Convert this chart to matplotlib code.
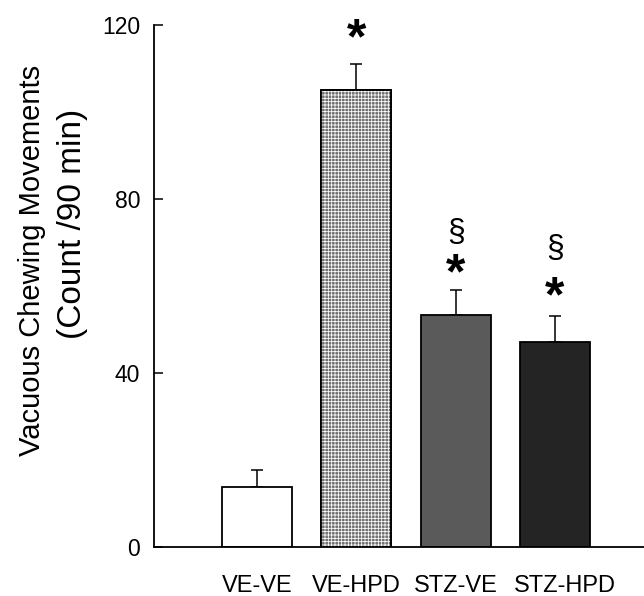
import matplotlib
matplotlib.use('Agg')
import matplotlib.pyplot as plt
import matplotlib.transforms as mtransforms
import numpy as np

groups = ["VE-VE", "VE-HPD", "STZ-VE", "STZ-HPD"]
means = [13.8, 105.0, 53.3, 47.1]
sems = [3.9, 6.0, 5.8, 6.0]
# markers above the bars: (group index, y value, symbol)
stars = [(1, 116.5, "*"), (2, 62.5, "*"), (3, 57.2, "*")]
sections = [(2, 72.2, "\u00a7"), (3, 68.4, "\u00a7")]

fills = ["white", "#707070", "#5a5a5a", "#242424"]
hatches = [None, "+++++", None, None]

plt.rcParams['font.family'] = ['Liberation Sans', 'DejaVu Sans']
plt.rcParams['hatch.linewidth'] = 0.55

fig = plt.figure(figsize=(6.44, 5.96), dpi=100)
ax = fig.add_axes([154 / 644, 49 / 596, 490 / 644, 522 / 596])

x = np.arange(len(groups))
ax.bar(x, means, width=0.705, color=fills, edgecolor="black", linewidth=1.3, zorder=2)
# white grid texture on the light bar
for i, h in enumerate(hatches):
    if h:
        ax.bar(x[i], means[i], width=0.705, facecolor="none", edgecolor="white",
               hatch=h, linewidth=0, zorder=3)
        ax.bar(x[i], means[i], width=0.705, facecolor="none", edgecolor="black",
               linewidth=1.3, zorder=4)

ax.errorbar(x, means, yerr=[np.zeros(len(means)), sems], fmt="none", ecolor="black",
            elinewidth=1.1, capsize=4.5, capthick=1.1, zorder=1)

for i, y, s in stars:
    ax.text(x[i], y, s, ha="center", va="center", fontsize=36, fontweight="bold")
for i, y, s in sections:
    ax.text(x[i], y, s, ha="center", va="center", fontsize=23)

ax.set_xlim(-1.037, 3.897)
ax.set_ylim(0, 120)
ax.set_yticks([0, 40, 80, 120])
ax.set_xticks(x)
ax.set_xticklabels(groups, fontsize=17)
ax.tick_params(axis="x", length=0, pad=20)
ax.tick_params(axis="y", direction="in", length=6.5, width=1.1, labelsize=16.5, pad=10)

# the last label sits a little right of its bar in the original
lab = ax.get_xticklabels()[-1]
lab.set_transform(lab.get_transform() + mtransforms.ScaledTranslation(0.1, 0, fig.dpi_scale_trans))

for side in ["top", "right"]:
    ax.spines[side].set_visible(False)
for side in ["left", "bottom"]:
    ax.spines[side].set_linewidth(1.3)

fig.text(32 / 644, 1 - 260 / 596, "Vacuous Chewing Movements", rotation=90,
         ha="center", va="center", fontsize=21)
fig.text(72 / 644, 1 - 224 / 596, "(Count /90 min)", rotation=90,
         ha="center", va="center", fontsize=24)

fig.savefig("out.png", dpi=100)
